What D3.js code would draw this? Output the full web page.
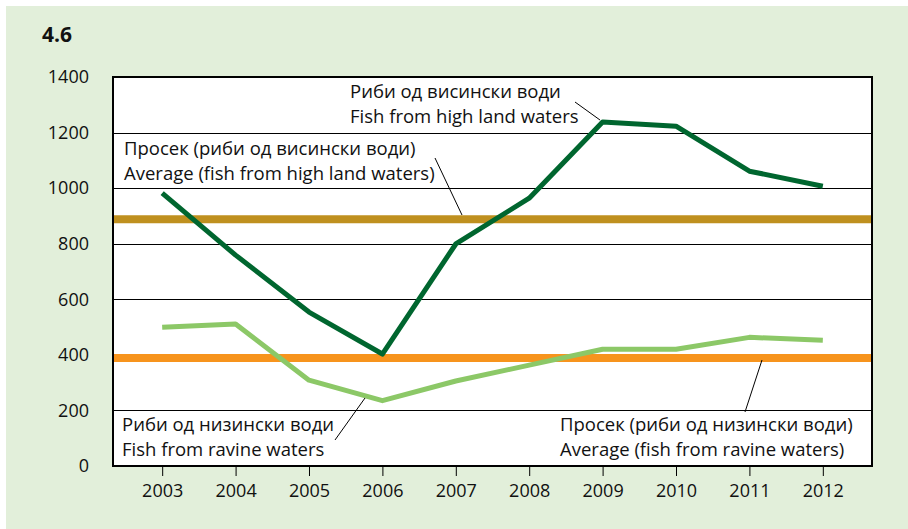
<!DOCTYPE html>
<html>
<head>
<meta charset="utf-8">
<script src="https://cdn.jsdelivr.net/npm/d3@7"></script>
<style>
  body { margin: 0; background: #fff; }
  text { font-family: 'Open Sans', 'Noto Sans', sans-serif; fill: #111; }
</style>
</head>
<body>
<div id="chart"></div>
<script>
const years = ['2003', '2004', '2005', '2006', '2007', '2008', '2009', '2010', '2011', '2012']
const highLand = [982, 759, 554, 403, 799, 964, 1238, 1223, 1061, 1007]
const ravine = [499, 511, 309, 235, 306, 363, 420, 420, 463, 453]
const avgHighLand = 888
const avgRavine = 389
const yTicks = [0, 200, 400, 600, 800, 1000, 1200, 1400]

const labels = [
  { lines: ['Риби од висински води', 'Fish from high land waters'], x: 350, y: 92, from: [575, 102], to: [600, 120] },
  { lines: ['Просек (риби од висински води)', 'Average (fish from high land waters)'], x: 124, y: 149, from: [435, 158], to: [462, 215] },
  { lines: ['Риби од низински води', 'Fish from ravine waters'], x: 122, y: 425, from: [335, 440], to: [365, 398] },
  { lines: ['Просек (риби од низински води)', 'Average (fish from ravine waters)'], x: 560, y: 425, from: [745, 412], to: [762, 360] }
]

const dimensions = {
  width: 908,
  height: 529,
  margin: { top: 77, right: 36, bottom: 63, left: 113 }
}
const innerW = dimensions.width - dimensions.margin.left - dimensions.margin.right
const innerH = dimensions.height - dimensions.margin.top - dimensions.margin.bottom

const svg = d3.select('#chart').append('svg')
  .attr('width', dimensions.width)
  .attr('height', dimensions.height)

svg.append('rect')
  .attr('x', 6).attr('y', 6)
  .attr('width', dimensions.width - 6)
  .attr('height', dimensions.height - 6)
  .attr('fill', '#e2efda')

svg.append('text')
  .attr('x', 42).attr('y', 42)
  .style('font-size', '21px')
  .style('font-weight', 'bold')
  .text('4.6')

const bounds = svg.append('g')
  .attr('transform', `translate(${dimensions.margin.left}, ${dimensions.margin.top})`)

const xScale = d3.scalePoint()
  .domain(years)
  .range([0, innerW])
  .padding(0.67)

const yScale = d3.scaleLinear()
  .domain([0, 1400])
  .range([innerH, 0])

bounds.append('rect')
  .attr('width', innerW)
  .attr('height', innerH)
  .attr('fill', '#fff')

// gridlines
bounds.selectAll('.grid')
  .data(yTicks)
  .join('line')
  .attr('x1', 0).attr('x2', innerW)
  .attr('y1', d => Math.round(yScale(d)) + 0.5)
  .attr('y2', d => Math.round(yScale(d)) + 0.5)
  .attr('stroke', '#000')
  .attr('stroke-width', 1)

// y labels
svg.append('g')
  .selectAll('text')
  .data(yTicks)
  .join('text')
  .attr('x', 89)
  .attr('y', d => dimensions.margin.top + yScale(d))
  .attr('dy', '0.35em')
  .attr('text-anchor', 'end')
  .style('font-size', '18px')
  .text(d => d)

// x axis
const xAxis = svg.append('g')
  .attr('transform', `translate(${dimensions.margin.left}, ${dimensions.margin.top + innerH})`)
  .call(d3.axisBottom(xScale).tickSize(10).tickPadding(8))
xAxis.select('.domain').remove()
xAxis.selectAll('line').attr('stroke', '#000')
xAxis.selectAll('text')
  .style('font-size', '18px')
  .style('font-family', "'Open Sans', 'Noto Sans', sans-serif")
  .attr('fill', '#111')

// averages
bounds.append('line')
  .attr('x1', 0).attr('x2', innerW)
  .attr('y1', yScale(avgHighLand)).attr('y2', yScale(avgHighLand))
  .attr('stroke', '#bf901f')
  .attr('stroke-width', 8)

bounds.append('line')
  .attr('x1', 0).attr('x2', innerW)
  .attr('y1', yScale(avgRavine)).attr('y2', yScale(avgRavine))
  .attr('stroke', '#f7941d')
  .attr('stroke-width', 8)

const line = d3.line()
  .x((d, i) => xScale(years[i]))
  .y(d => yScale(d))

bounds.append('path')
  .datum(ravine)
  .attr('d', line)
  .attr('fill', 'none')
  .attr('stroke', '#8cc867')
  .attr('stroke-width', 5)
  .attr('stroke-linejoin', 'round')

bounds.append('path')
  .datum(highLand)
  .attr('d', line)
  .attr('fill', 'none')
  .attr('stroke', '#00662f')
  .attr('stroke-width', 5)
  .attr('stroke-linejoin', 'round')

// frame
bounds.append('rect')
  .attr('width', innerW)
  .attr('height', innerH)
  .attr('fill', 'none')
  .attr('stroke', '#000')
  .attr('stroke-width', 2)

// annotations
const ann = svg.append('g')
labels.forEach(l => {
  ann.append('line')
    .attr('x1', l.from[0]).attr('y1', l.from[1])
    .attr('x2', l.to[0]).attr('y2', l.to[1])
    .attr('stroke', '#000')
    .attr('stroke-width', 1)
  l.lines.forEach((t, i) => {
    ann.append('text')
      .attr('x', l.x)
      .attr('y', l.y + i * 25)
      .attr('dy', '0.35em')
      .style('font-size', '18.5px')
      .text(t)
  })
})
</script>
</body>
</html>
